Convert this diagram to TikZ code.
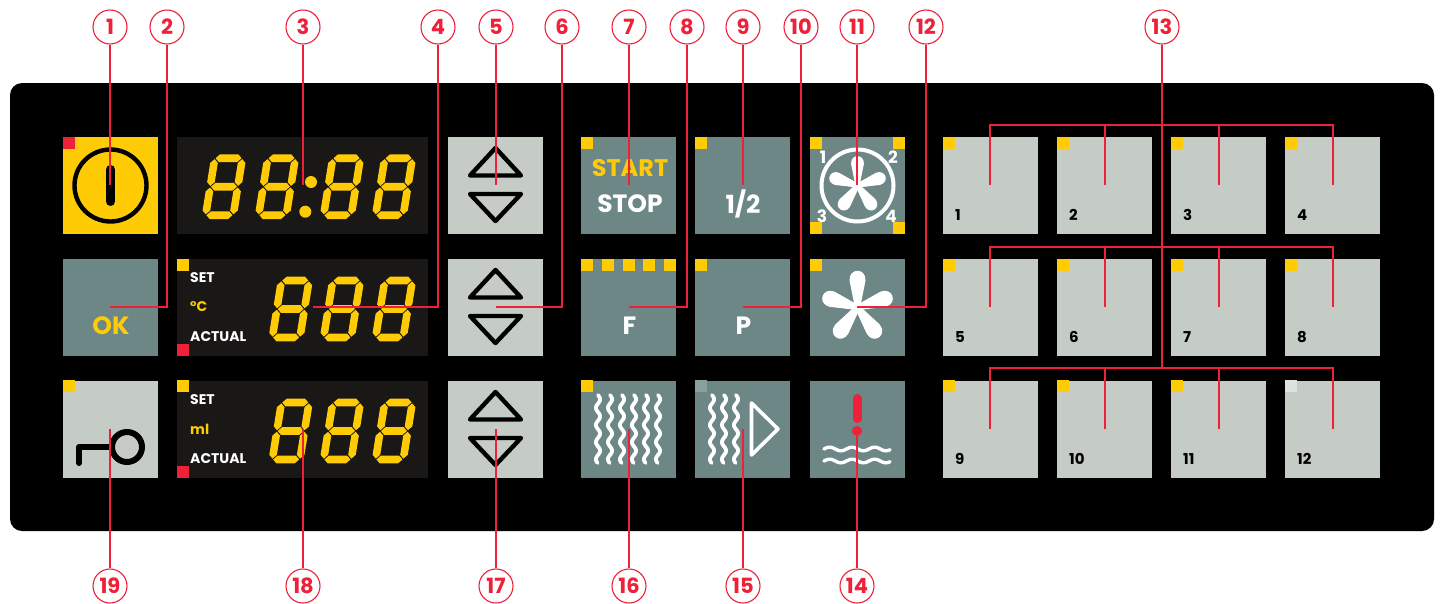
\documentclass[tikz,border=0pt]{standalone}
\usepackage{fontspec}
\setmainfont{Poppins}
\usepackage{tikz}
\usetikzlibrary{positioning}
\definecolor{amber}{HTML}{FFCB05}
\definecolor{signal}{HTML}{EE2139}
\definecolor{teal}{HTML}{6D8787}
\definecolor{pale}{HTML}{C5CCC5}
\definecolor{screen}{HTML}{1A1717}
\newcommand{\seghor}[2]{\fill ({#1-13},#2) -- ({#1-9.2},{#2-3.8}) -- ({#1+9.2},{#2-3.8}) -- ({#1+13},#2) -- ({#1+9.2},{#2+3.8}) -- ({#1-9.2},{#2+3.8}) -- cycle;}
\newcommand{\segver}[2]{\fill (#1,{#2-13.4}) -- ({#1+3.8},{#2-9.6}) -- ({#1+3.8},{#2+9.6}) -- (#1,{#2+13.4}) -- ({#1-3.8},{#2+9.6}) -- ({#1-3.8},{#2-9.6}) -- cycle;}
\newcommand{\wavever}[3]{\draw[wave] plot[domain=0:#3,samples=60] ({#1+2.1*sin(\x*21)},{#2+\x});}
\newcommand{\wavehor}[3]{\draw[wave,line width=3.4pt] plot[domain=0:#3,samples=60] ({#1+\x},{#2-1.8*sin(\x*16)});}
\newcommand{\led}[3][amber]{\fill[#1] (#2,#3) rectangle ++(12,12);}
\tikzset{
 pics/segdigit/.style={code={
  \begin{scope}[xslant=.16,amber]
  \foreach \sy in {-28.5,0,28.5} {\seghor{0}{\sy}}
  \foreach \sx in {-13.8,13.8} {\segver{\sx}{-14.2}\segver{\sx}{14.2}}
  \end{scope}}},
 pics/updown/.style={code={
  \draw[black,line width=4.4pt,line join=round] (-25.5,-10) -- (0,-37.5) -- (25.5,-10) -- cycle;
  \draw[black,line width=4.4pt,line join=round] (-25.5,8.5) -- (0,35.5) -- (25.5,8.5) -- cycle;}},
 pics/fan/.style={code={
  \foreach \a in {0,72,144,216,288} {
   \fill[white,rotate=\a] (-2.6,0) -- (-8,-27) .. controls (-8.5,-40) and (8.5,-40) .. (8,-27) -- (2.6,0) -- cycle;}}}
}
\begin{document}
\begin{tikzpicture}[x=1pt,y=-1pt,
 btn/.style={minimum width=95pt, minimum height=97pt, inner sep=0pt, outer sep=0pt, fill=teal},
 lightbtn/.style={btn, fill=pale},
 disp/.style={btn, minimum width=251pt, fill=screen},
 lead/.style={draw=signal, line width=1.7pt},
 callout/.style={circle, draw=signal, fill=white, line width=1.1pt, minimum size=34pt, inner sep=0pt, text=signal, font=\bfseries\fontsize{21}{21}\selectfont},
 lab/.style={inner sep=0pt, text=white, font=\bfseries\fontsize{25}{25}\selectfont},
 tiny/.style={inner sep=0pt, anchor=west, text=white, font=\bfseries\fontsize{14}{14}\selectfont},
 prognum/.style={tiny, text=black, font=\bfseries\fontsize{15}{15}\selectfont},
 fannum/.style={tiny, anchor=center, font=\bfseries\fontsize{17}{17}\selectfont},
 wave/.style={white, line width=3.8pt, line cap=round}]
\useasboundingbox (0,0) rectangle (1443,603);
\fill[black, rounded corners=12pt] (10,83) rectangle (1434,531);
\node[btn, fill=amber] (btnpower) at (110.5,185.5) {};
\node[btn, below=25pt of btnpower] (btnok) {};
\node[lightbtn, below=25pt of btnok] (btnkey) {};
\node[disp, right=19pt of btnpower] (dispclock) {};
\node[disp, right=19pt of btnok] (disptemp) {};
\node[disp, right=19pt of btnkey] (dispml) {};
\node[lightbtn, right=20pt of dispclock] (arrclock) {};
\node[lightbtn, right=20pt of disptemp] (arrtemp) {};
\node[lightbtn, right=20pt of dispml] (arrml) {};
\node[btn, right=38pt of arrclock] (btnstart) {};
\node[btn, right=38pt of arrtemp] (btnf) {};
\node[btn, right=38pt of arrml] (btnsteam) {};
\node[btn, right=19pt of btnstart] (btnhalf) {};
\node[btn, right=19pt of btnf] (btnp) {};
\node[btn, right=19pt of btnsteam] (btnrun) {};
\node[btn, right=20pt of btnhalf] (btnfans) {};
\node[btn, right=20pt of btnp] (btnfan) {};
\node[btn, right=20pt of btnrun] (btnalarm) {};
\node[lightbtn, right=38pt of btnfans] (prog1) {};
\node[lightbtn, right=19pt of prog1] (prog2) {};
\node[lightbtn, right=19pt of prog2] (prog3) {};
\node[lightbtn, right=19pt of prog3] (prog4) {};
\node[lightbtn, right=38pt of btnfan] (prog5) {};
\node[lightbtn, right=19pt of prog5] (prog6) {};
\node[lightbtn, right=19pt of prog6] (prog7) {};
\node[lightbtn, right=19pt of prog7] (prog8) {};
\node[lightbtn, right=38pt of btnalarm] (prog9) {};
\node[lightbtn, right=19pt of prog9] (prog10) {};
\node[lightbtn, right=19pt of prog10] (prog11) {};
\node[lightbtn, right=19pt of prog11] (prog12) {};
\foreach \n/\py in {1/215,2/215,3/215,4/215,5/337,6/337,7/337,8/337,9/459,10/459,11/459,12/459}
 \node[prognum] (num\n) at ([xshift=12pt]prog\n.west |- 0,\py) {\n};
\foreach \lx in {943,1057,1171} {\led{\lx}{137}\led{\lx}{259}\led{\lx}{380}}
\led{1285}{137}\led{1285}{259}\led[white!45!pale]{1285}{380}
\led[signal]{63}{137}\led{63}{380}
\led{177}{259}\led[signal]{177}{344}\led{177}{380}\led[signal]{177}{466}
\led{581}{137}\led{695}{137}\led{695}{259}\led{810}{259}\led{581}{380}\led[white!20!teal]{695}{380}
\foreach \lx in {581,602,623,643,664} {\led{\lx}{259}}
\foreach \lx in {810,893} {\led{\lx}{137}\led{\lx}{222}}
\draw[black, line width=4.4pt] (btnpower.center) circle[radius=36];
\draw[black, line width=9pt, line cap=round] (110.5,169.5) -- (110.5,201.5);
\draw[black, line width=6pt, line cap=round, line join=round] (79,463) -- (79,447) -- (112,447);
\draw[black, line width=6pt] (127,447) circle[radius=15];
\foreach \dx/\dy in {224/186.7,277/186.7,342/186.7,394/186.7,290.7/309,342/309,394/309,290.7/431,342/431,394/431}
 \pic at (\dx,\dy) {segdigit};
\fill[amber] (311,182) circle[radius=6];
\fill[amber] (305.3,211.7) circle[radius=6];
\node[tiny] (tempset) at (190,278) {SET};
\node[tiny, text=amber] (tempunit) at (190,307) {°C};
\node[tiny] (tempactual) at (190,337) {ACTUAL};
\node[tiny] (mlset) at (190,400) {SET};
\node[tiny, text=amber] (mlunit) at (190,429) {ml};
\node[tiny] (mlactual) at (190,459) {ACTUAL};
\pic at (arrclock.center) {updown};
\pic at (arrtemp.center) {updown};
\pic at (arrml.center) {updown};
\node[lab, text=amber] (oktext) at (111,326) {OK};
\node[lab, text=amber, font=\bfseries\fontsize{24}{24}\selectfont] (starttext) at (630,168) {START};
\node[lab] (stoptext) at (630,204) {STOP};
\node[lab] (halftext) at (743,204) {1/2};
\node[lab] (ftext) at (629.5,326) {F};
\node[lab] (ptext) at (743.5,326) {P};
\pic[scale=.8] at (btnfans.center) {fan};
\draw[white, line width=4pt] (btnfans.center) circle[radius=36];
\node[fannum] (fanone) at (823,157) {1};
\node[fannum] (fantwo) at (893,157) {2};
\node[fannum] (fanthree) at (822,216) {3};
\node[fannum] (fanfour) at (891,216) {4};
\pic at (btnfan.center) {fan};
\foreach \wx in {598,610,622,634,646,658} {\wavever{\wx}{395}{68}}
\foreach \wx in {712,724,736} {\wavever{\wx}{395}{68}}
\draw[white, line width=3.6pt, line join=round] (751.5,403) -- (778,429) -- (751.5,455) -- cycle;
\draw[signal, line width=9pt, line cap=round] (857,398.5) -- (857,418.5);
\fill[signal] (857,431) circle[radius=5];
\wavehor{824}{449}{66}
\wavehor{824}{461}{66}
\foreach \n/\cx in {1/110,2/167,3/303,4/438,5/496,6/562,7/629,8/687,9/743,10/801,11/857,12/926,13/1162}
 \node[callout] (c\n) at (\cx,27) {\n};
\foreach \n/\cx in {14/857,15/743,16/629,17/496,18/303,19/110}
 \node[callout] (c\n) at (\cx,586) {\n};
\foreach \n in {btnpower,btnok,btnkey,btnfans,btnfan,btnalarm,prog1,prog5,prog9}
 \coordinate (\n-tip) at ([shift={(-.5,-.5)}]\n.center);
\foreach \n in {dispclock,dispml,arrclock,arrtemp,arrml,btnstart,btnf,btnsteam,btnhalf,btnp,btnrun,prog2,prog3,prog4,prog6,prog7,prog8,prog10,prog11,prog12}
 \coordinate (\n-tip) at ([shift={(.5,-.5)}]\n.center);
\coordinate (temp-tip) at (313,307);
\coordinate (busA) at (1162,125);
\coordinate (busB) at (1162,247);
\coordinate (busC) at (1162,368);
\draw[lead] (c1) -- (btnpower-tip);
\draw[lead] (c2) |- (btnok-tip);
\draw[lead] (c3) -- (dispclock-tip);
\draw[lead] (c4) |- (temp-tip);
\draw[lead] (c5) -- (arrclock-tip);
\draw[lead] (c6) |- (arrtemp-tip);
\draw[lead] (c7) -- (btnstart-tip);
\draw[lead] (c8) |- (btnf-tip);
\draw[lead] (c9) -- (btnhalf-tip);
\draw[lead] (c10) |- (btnp-tip);
\draw[lead] (c11) -- (btnfans-tip);
\draw[lead] (c12) |- (btnfan-tip);
\draw[lead] (c13) -- (busC);
\draw[lead] (prog1-tip) |- (busA) -| (prog4-tip);
\draw[lead] (prog5-tip) |- (busB) -| (prog8-tip);
\draw[lead] (prog9-tip) |- (busC) -| (prog12-tip);
\foreach \n/\b in {2/busA,3/busA,6/busB,7/busB,10/busC,11/busC}
 \draw[lead] (prog\n-tip) -- (prog\n-tip |- \b);
\draw[lead] (c14) -- (btnalarm-tip);
\draw[lead] (c15) -- (btnrun-tip);
\draw[lead] (c16) -- (btnsteam-tip);
\draw[lead] (c17) -- (arrml-tip);
\draw[lead] (c18) -- (dispml-tip);
\draw[lead] (c19) -- (btnkey-tip);
\end{tikzpicture}
\end{document}
